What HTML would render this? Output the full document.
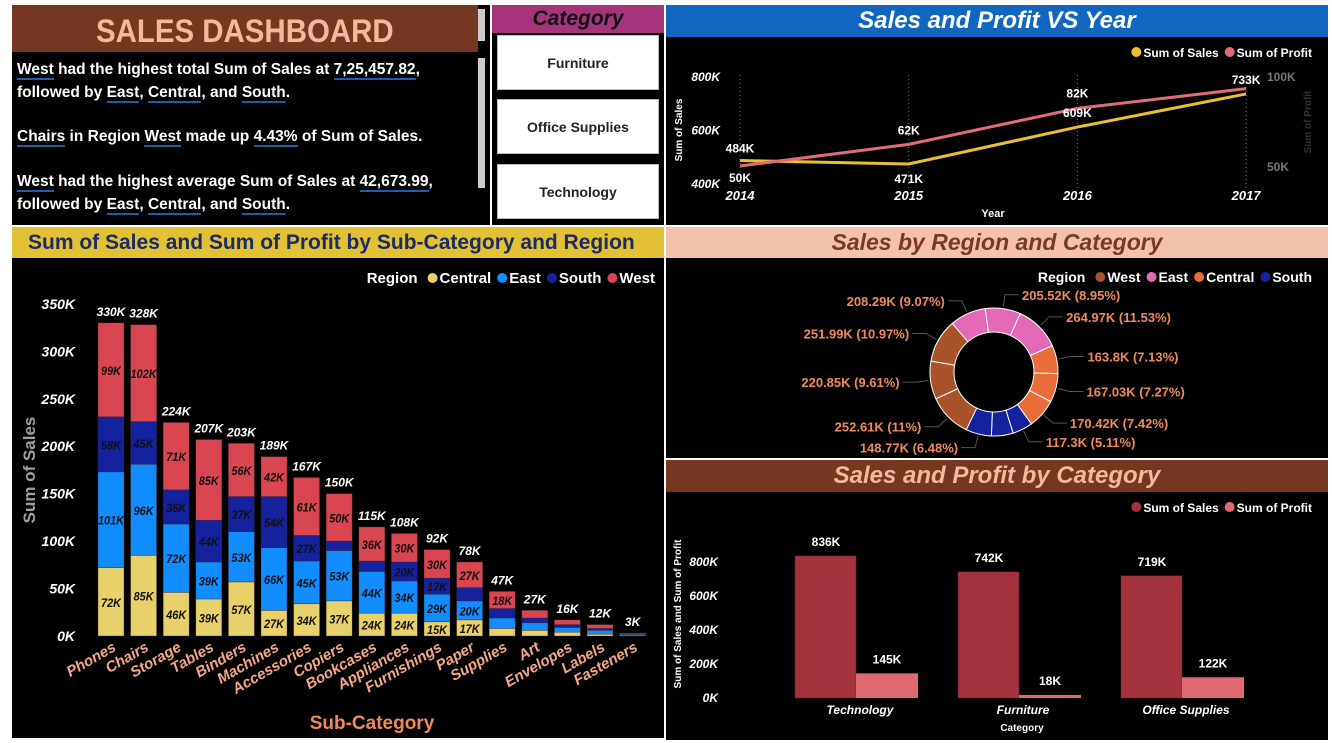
<!DOCTYPE html>
<html><head><meta charset="utf-8">
<style>
body{margin:0;width:1332px;height:743px;background:#fff;position:relative;overflow:hidden;font-family:"Liberation Sans",sans-serif;}
.p{position:absolute;background:#000;}
.h{position:absolute;font-weight:bold;text-align:center;}
.btn{position:absolute;left:497px;width:162px;height:55px;background:#fff;border:1px solid #bbb;box-sizing:border-box;display:flex;align-items:center;justify-content:center;font-weight:bold;font-size:14px;color:#222;}
#insight{position:absolute;left:17px;top:58px;width:455px;color:#fff;font-weight:bold;font-size:15.5px;line-height:23px;}
#insight u{text-decoration:none;border-bottom:2px solid #1b5fa5;}
svg text{font-family:"Liberation Sans",sans-serif;font-weight:bold;}
</style></head><body>
<div class="p" style="left:12px;top:5px;width:478px;height:220px;"></div>
<div class="h" style="left:12px;top:5px;width:466px;height:47px;background:#763720;color:#f4b99b;font-size:32px;line-height:52px;"><span style="display:inline-block;transform:scaleX(0.92);">SALES DASHBOARD</span></div>
<div style="position:absolute;left:478px;top:9px;width:7px;height:32px;background:#ccc;"></div>
<div style="position:absolute;left:478px;top:58px;width:7px;height:130px;background:#ccc;"></div>
<div id="insight">
<div><u>West</u> had the highest total Sum of Sales at <u>7,25,457.82</u>,<br>followed by <u>East</u>, <u>Central</u>, and <u>South</u>.</div>
<div style="margin-top:21px"><u>Chairs</u> in Region <u>West</u> made up <u>4.43%</u> of Sum of Sales.</div>
<div style="margin-top:22px"><u>West</u> had the highest average Sum of Sales at <u>42,673.99</u>,<br>followed by <u>East</u>, <u>Central</u>, and <u>South</u>.</div>
</div>

<div class="p" style="left:492px;top:5px;width:172px;height:220px;"></div>
<div class="h" style="left:492px;top:5px;width:172px;height:28px;background:#a5347a;color:#111;font-style:italic;font-size:21px;line-height:28px;">Category</div>
<div class="btn" style="top:35px;">Furniture</div>
<div class="btn" style="top:99px;">Office Supplies</div>
<div class="btn" style="top:164px;">Technology</div>

<div class="p" style="left:666px;top:5px;width:662px;height:220px;"></div>
<div class="h" style="left:666px;top:5px;width:662px;height:32px;background:#1166bf;color:#fff;font-style:italic;font-size:24px;line-height:32px;">Sales and Profit VS Year</div>

<div class="p" style="left:12px;top:227px;width:652px;height:511px;"></div>
<div class="h" style="left:12px;top:227px;width:652px;height:31px;background:#e2c135;color:#1c2a66;font-size:21px;line-height:31px;text-align:left;padding-left:16px;box-sizing:border-box;">Sum of Sales and Sum of Profit by Sub-Category and Region</div>

<div class="p" style="left:666px;top:227px;width:662px;height:231px;"></div>
<div class="h" style="left:666px;top:227px;width:662px;height:31px;background:#f4c2ab;color:#7a3a20;font-style:italic;font-size:23px;line-height:31px;">Sales by Region and Category</div>

<div class="p" style="left:666px;top:460px;width:662px;height:280px;"></div>
<div class="h" style="left:666px;top:460px;width:662px;height:32px;background:#763720;color:#f4b99b;font-style:italic;font-size:24px;line-height:32px;">Sales and Profit by Category</div>

<svg id="s" width="1332" height="743" style="position:absolute;left:0;top:0;"></svg>

<script>
// ---- stacked bar data ----
const subCats=["Phones","Chairs","Storage","Tables","Binders","Machines","Accessories","Copiers","Bookcases","Appliances","Furnishings","Paper","Supplies","Art","Envelopes","Labels","Fasteners"];
const central=[72,85,46,39,57,27,34,37,24,24,15,17,8,6,4,2,0.8];
const east=[101,96,72,39,53,66,45,53,44,34,29,20,11,8,5,4,0.9];
const south=[58,45,36,44,37,54,27,10,11,20,17,14,10,5,3,2,0.5];
const west=[99,102,71,85,56,42,61,50,36,30,30,27,18,8,5,4,0.9];
const totals=[330,328,224,207,203,189,167,150,115,108,92,78,47,27,16,12,3];
const barTicks=[0,50,100,150,200,250,300,350];
// ---- line data ----
const years=["2014","2015","2016","2017"];
const salesByYear=[484,471,609,733];
const profitByYear=[50,62,82,93];
const salesTicks=[400,600,800];
const profitTicks=[50,100];
// ---- donut data (clockwise from top) ----
const donutRegion=["East","East","Central","Central","Central","South","South","South","West","West","West","East"];
const donutValues=[205.52,264.97,163.8,167.03,170.42,117.3,125.65,148.77,252.61,220.85,251.99,208.29];
const donutLabels=["205.52K (8.95%)","264.97K (11.53%)","163.8K (7.13%)","167.03K (7.27%)","170.42K (7.42%)","117.3K (5.11%)","","148.77K (6.48%)","252.61K (11%)","220.85K (9.61%)","251.99K (10.97%)","208.29K (9.07%)"];
// ---- category data ----
const categories=["Technology","Furniture","Office Supplies"];
const catSales=[836,742,719];
const catProfit=[145,18,122];
const catTicks=[0,200,400,600,800];

const S=document.getElementById('s');const NS='http://www.w3.org/2000/svg';
function el(t,a,txt){const e=document.createElementNS(NS,t);for(const k in a)e.setAttribute(k,a[k]);if(txt!==undefined)e.textContent=txt;S.appendChild(e);return e;}
function legend(items,xEnd,y,fs,title,prefix){
 const g=document.createElementNS(NS,'g');S.appendChild(g);
 
 
 let x=0;
 if(title){const t=document.createElementNS(NS,'text');t.setAttribute('x',0);t.setAttribute('y',y+5);t.setAttribute('font-size',fs);t.setAttribute('fill','#fff');t.textContent=title;
  
  
  g.appendChild(t);x=t.getComputedTextLength()+10;}
 items.forEach(([n,c])=>{const d=document.createElementNS(NS,'circle');d.setAttribute('cx',x+5);d.setAttribute('cy',y);d.setAttribute('r',5);d.setAttribute('fill',c);
  
  
  g.appendChild(d);
  const t=document.createElementNS(NS,'text');t.setAttribute('x',x+12);t.setAttribute('y',y+5);t.setAttribute('font-size',fs);t.setAttribute('fill','#fff');t.textContent=n;
  
  
  g.appendChild(t);x+=12+t.getComputedTextLength()+6;});
 g.setAttribute('transform',`translate(${xEnd-x+6},0)`);}

// ===== stacked bar chart =====
const by=v=>636-v*0.949, bx=i=>111+i*32.6;
barTicks.forEach(t=>{const e=el('text',{x:75,y:by(t)+5,'text-anchor':'end','font-size':14,'font-style':'italic',fill:'#fff'},t+'K');
});
let e=el('text',{x:35,y:470,'text-anchor':'middle','font-size':17,fill:'#a0a0a0',transform:'rotate(-90 35 470)'},'Sum of Sales');

const regCol={Central:'#e8d06a',East:'#118dff',South:'#14229e',West:'#d9464f'};
const series=[["Central",central],["East",east],["South",south],["West",west]];
subCats.forEach((c,i)=>{let acc=0;const cx=bx(i);
 series.forEach(([r,arr])=>{const v=arr[i];const y0=by(acc),y1=by(acc+v);
  const rr=el('rect',{x:cx-13,y:y1,width:26,height:y0-y1,fill:regCol[r],stroke:'rgba(60,40,40,0.6)','stroke-width':0.6});
  
  if(y0-y1>=14){const t=el('text',{x:cx,y:(y0+y1)/2+5,'text-anchor':'middle','font-size':12,'font-style':'italic',fill:'#111',textLength:(v>=100?26:20),lengthAdjust:'spacingAndGlyphs'},Math.round(v)+'K');
   }
  acc+=v;});
 const tl=el('text',{x:cx,y:by(acc)-7,'text-anchor':'middle','font-size':12,'font-style':'italic',fill:'#fff'},totals[i]+'K');
 
 const xl=el('text',{x:cx+6,y:650,'text-anchor':'end','font-size':15,'font-style':'italic',fill:'#f4a887',transform:`rotate(-30 ${cx+6} 650)`},c);
 });
e=el('text',{x:372,y:729,'text-anchor':'middle','font-size':19,fill:'#f08a5d'},'Sub-Category');

legend([["Central",regCol.Central],["East",regCol.East],["South",regCol.South],["West",regCol.West]],655,278,15,'Region','bar');

// ===== line chart =====
const lx=i=>740+i*168.7, sy=v=>183-(v-400)*0.2675, py=v=>256-v*1.8;
years.forEach((y,i)=>{const g=el('line',{x1:lx(i),x2:lx(i),y1:75,y2:188,stroke:'#777','stroke-dasharray':'1 3'});
 const t=el('text',{x:lx(i),y:200,'text-anchor':'middle','font-size':13,'font-style':'italic',fill:'#fff'},y);});
salesTicks.forEach(t=>{const x=el('text',{x:720,y:sy(t)+5,'text-anchor':'end','font-size':12,'font-style':'italic',fill:'#fff'},t+'K');});
profitTicks.forEach(t=>{const x=el('text',{x:1267,y:py(t)+5,'font-size':12,fill:'#777'},t+'K');});
e=el('text',{x:682,y:130,'text-anchor':'middle','font-size':10,fill:'#fff',transform:'rotate(-90 682 130)'},'Sum of Sales');
e=el('text',{x:1311,y:122,'text-anchor':'middle','font-size':10,fill:'#333',transform:'rotate(-90 1311 122)'},'Sum of Profit');
e=el('text',{x:993,y:217,'text-anchor':'middle','font-size':11,fill:'#fff'},'Year');
e=el('polyline',{points:salesByYear.map((v,i)=>lx(i)+','+sy(v)).join(' '),fill:'none',stroke:'#e8c030','stroke-width':3});
e=el('polyline',{points:profitByYear.map((v,i)=>lx(i)+','+py(v)).join(' '),fill:'none',stroke:'#e06c78','stroke-width':3});
salesByYear.forEach((v,i)=>{const p=py(profitByYear[i]),s=sy(v);let ys;
 if(i==3)ys=s-10;else if(s<p)ys=s-8;else ys=s+19;
 if(i==2)ys=s-10;
 const t=el('text',{x:lx(i),y:ys,'text-anchor':'middle','font-size':12,fill:'#fff'},v+'K');});
profitByYear.forEach((v,i)=>{if(i==3)return;const p=py(v),s=sy(salesByYear[i]);const ys=(p>s)?p+16:p-10;
 const t=el('text',{x:lx(i),y:i==2?p-11:ys,'text-anchor':'middle','font-size':12,fill:'#fff'},v+'K');});
legend([["Sum of Sales",'#e8c030'],["Sum of Profit",'#e06c78']],1312,52,12,null,'line');

// ===== donut =====
const dcol={West:'#a9532a',East:'#e46ab8',Central:'#e86d3a',South:'#14229e'};
const dcx=994,dcy=372,R=64,r0=40;const tot=donutValues.reduce((a,b)=>a+b,0);
let ang=-8;
donutValues.forEach((v,i)=>{const a0=ang,a1=ang+v/tot*360;ang=a1;
 const pt=(rad,a)=>[dcx+rad*Math.sin(a*Math.PI/180),dcy-rad*Math.cos(a*Math.PI/180)];
 const [x0,y0]=pt(R,a0),[x1,y1]=pt(R,a1),[x2,y2]=pt(r0,a1),[x3,y3]=pt(r0,a0);const lg=(a1-a0)>180?1:0;
 const p=el('path',{d:`M${x0},${y0}A${R},${R} 0 ${lg} 1 ${x1},${y1}L${x2},${y2}A${r0},${r0} 0 ${lg} 0 ${x3},${y3}Z`,fill:dcol[donutRegion[i]],stroke:'#fff','stroke-width':1});
 
 if(donutLabels[i]){const m=(a0+a1)/2;const [lx1,ly1]=pt(R+2,m),[lx2,ly2]=pt(R+14,m);const right=Math.sin(m*Math.PI/180)>=0;const lx3=lx2+(right?14:-14);
  const ln=el('polyline',{points:`${lx1},${ly1} ${lx2},${ly2} ${lx3},${ly2}`,fill:'none',stroke:'#555','stroke-width':1});
  const t=el('text',{x:lx3+(right?3:-3),y:ly2+5,'text-anchor':right?'start':'end','font-size':13,fill:'#f08a5d'},donutLabels[i]);}
});
legend([["West",dcol.West],["East",dcol.East],["Central",dcol.Central],["South",dcol.South]],1312,277,14,'Region','donut');

// ===== category chart =====
const cy=v=>698-v*0.17, ccx=i=>856+i*163;
catTicks.forEach(t=>{const x=el('text',{x:718,y:cy(t)+4,'text-anchor':'end','font-size':12,'font-style':'italic',fill:'#fff'},t+'K');});
e=el('text',{x:681,y:614,'text-anchor':'middle','font-size':10,fill:'#fff',transform:'rotate(-90 681 614)'},'Sum of Sales and Sum of Profit');
categories.forEach((c,i)=>{const x=ccx(i);
 let b=el('rect',{x:x-61,y:cy(catSales[i]),width:61,height:698-cy(catSales[i]),fill:'#a3333f',stroke:'#6a1e26','stroke-width':0.5});
 b=el('rect',{x:x,y:cy(catProfit[i]),width:62,height:698-cy(catProfit[i]),fill:'#e0686f'});
 let t=el('text',{x:x-30,y:cy(catSales[i])-10,'text-anchor':'middle','font-size':12,fill:'#fff'},catSales[i]+'K');
 t=el('text',{x:x+31,y:cy(catProfit[i])-10,'text-anchor':'middle','font-size':12,fill:'#fff'},catProfit[i]+'K');
 t=el('text',{x:x+4,y:714,'text-anchor':'middle','font-size':12,'font-style':'italic',fill:'#fff'},c);});
e=el('text',{x:1022,y:731,'text-anchor':'middle','font-size':10,fill:'#fff'},'Category');
legend([["Sum of Sales",'#a3333f'],["Sum of Profit",'#e0686f']],1312,507,12,null,'category');
</script>
</body></html>
